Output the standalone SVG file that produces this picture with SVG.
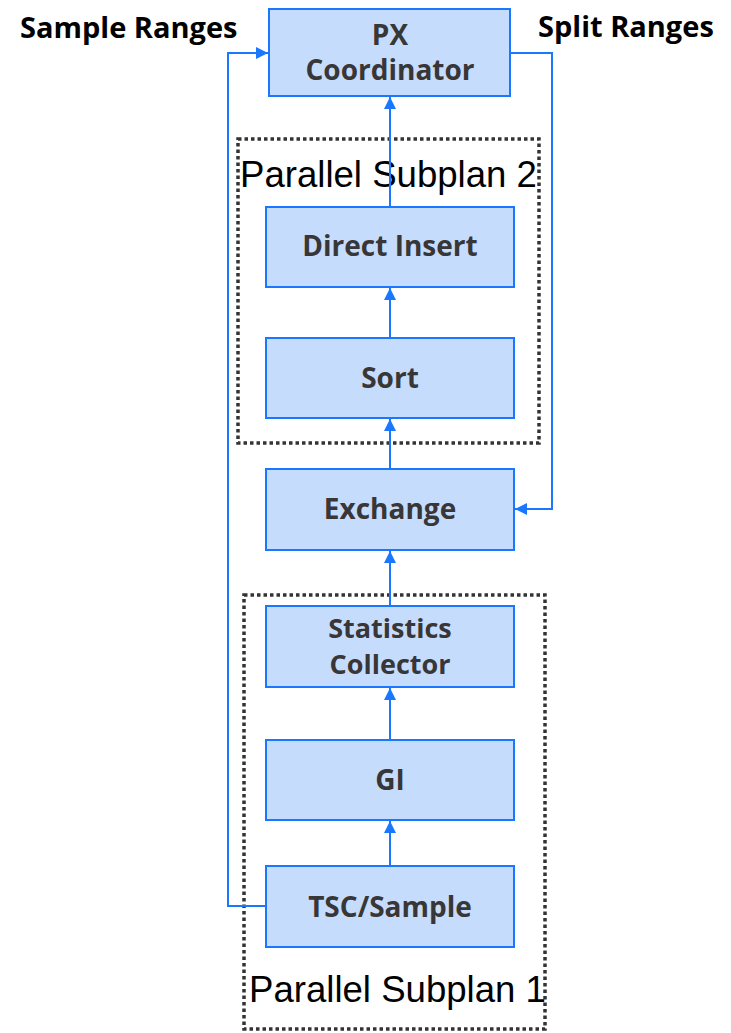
<svg xmlns="http://www.w3.org/2000/svg" width="731" height="1033" viewBox="0 0 731 1033">
<defs>
<style>
.node rect{fill:#c6dcfd;stroke:#1a78ff;stroke-width:2}
.node text{font-family:"Open Sans","Noto Sans",sans-serif;font-weight:bold;font-size:28px;fill:#383636;text-anchor:middle}
.node text.two{font-size:27px}
.frame{fill:none;stroke:#333;stroke-width:3.5;stroke-dasharray:3.5 3}
.frame-label{font-family:"Liberation Sans",Arial,sans-serif;font-size:36.6px;fill:#000}
.edge{fill:none;stroke:#1a78ff;stroke-width:2;marker-end:url(#arr)}
.side{font-family:"Open Sans","Noto Sans",sans-serif;font-weight:bold;font-size:29px;fill:#000}
</style>
<marker id="arr" viewBox="0 0 10 10" refX="10" refY="5" markerWidth="6" markerHeight="6" markerUnits="strokeWidth" orient="auto">
<path d="M0,0 L10,5 L0,10 z" fill="#1a78ff"/>
</marker>
</defs>
<rect width="731" height="1033" fill="#fff"/>
<g id="frame2"><rect class="frame" x="238" y="139" width="301" height="304"/><text class="frame-label" x="240" y="187">Parallel Subplan 2</text></g>
<g id="frame1"><rect class="frame" x="244" y="595" width="301" height="434"/><text class="frame-label" x="249" y="1002">Parallel Subplan 1</text></g>
<text class="side" x="20" y="38">Sample Ranges</text>
<text class="side" x="538" y="37">Split Ranges</text>
<g id="connectors">
<path class="edge" d="M390,207 V97"/>
<path class="edge" d="M390,338 V288"/>
<path class="edge" d="M390,469 V419"/>
<path class="edge" d="M390,606 V551"/>
<path class="edge" d="M390,740 V688"/>
<path class="edge" d="M390,866 V821"/>
<path class="edge" d="M266,906 H228 V53 H268"/>
<path class="edge" d="M510,53 H552 V509 H515"/>
</g>
<g id="px" class="node"><rect x="269" y="9" width="241" height="87"/><text x="390" y="45">PX</text><text x="390" y="80">Coordinator</text></g>
<g id="direct-insert" class="node"><rect x="266" y="207" width="248" height="80"/><text x="390" y="256">Direct Insert</text></g>
<g id="sort" class="node"><rect x="266" y="338" width="248" height="80"/><text x="390" y="388">Sort</text></g>
<g id="exchange" class="node"><rect x="266" y="469" width="248" height="81"/><text x="390" y="519">Exchange</text></g>
<g id="stats" class="node"><rect x="266" y="606" width="248" height="81"/><text class="two" x="390" y="638">Statistics</text><text class="two" x="390" y="674">Collector</text></g>
<g id="gi" class="node"><rect x="266" y="740" width="248" height="80"/><text x="390" y="790">GI</text></g>
<g id="tsc" class="node"><rect x="266" y="866" width="248" height="81"/><text x="390" y="917">TSC/Sample</text></g>
</svg>
